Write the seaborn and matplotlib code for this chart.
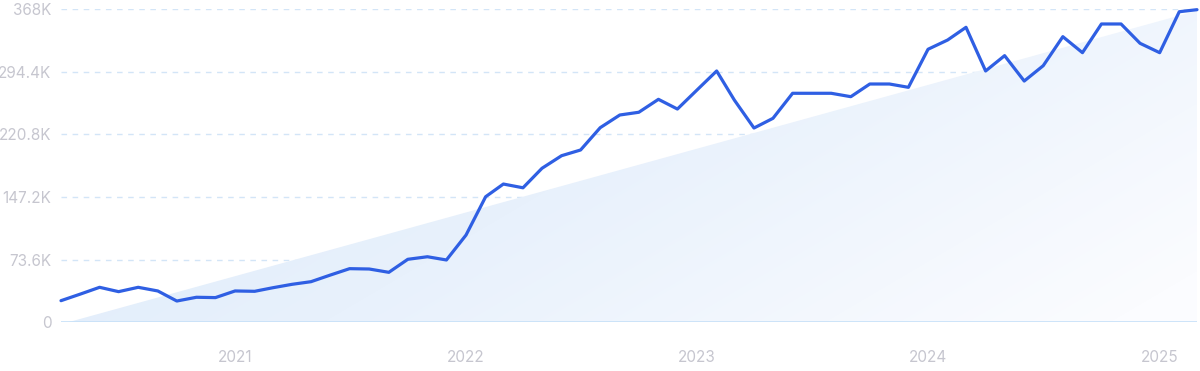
import numpy as np
import pandas as pd
import matplotlib
matplotlib.use("Agg")
import matplotlib.pyplot as plt
import matplotlib.dates as mdates
from matplotlib.patches import Polygon
from matplotlib.colors import LinearSegmentedColormap
import seaborn as sns

# ---- data ----
months = pd.date_range("2020-04-01", "2025-03-01", freq="MS")
values = [
    25400, 33000, 41100, 36000, 41100, 36800, 25000, 29400, 29000,          # 2020-04..2020-12
    36800, 36400, 40500, 44600, 47700, 55600, 63000, 62600, 58700, 74000, 77000, 73200,  # 2021
    102500, 147500, 162400, 158000, 180900, 195700, 202400, 228600, 243500, 246700, 261900, 250500,  # 2022
    272900, 295200, 261000, 228200, 239600, 269000, 269000, 269000, 265000, 279900, 279900, 276000,  # 2023
    320700, 331600, 346500, 295200, 313200, 283400, 301400, 335500, 316700, 350400, 350400, 327700,  # 2024
    316700, 364800, 367200,                                                   # 2025
]
trend_dates = [pd.Timestamp("2020-04-12"), pd.Timestamp("2025-03-01")]
trend_values = [0, 366000]
y_ticks = [0, 73600, 147200, 220800, 294400, 368000]
y_tick_labels = ["0", "73.6K", "147.2K", "220.8K", "294.4K", "368K"]
x_ticks = ["2021", "2022", "2023", "2024", "2025"]

df = pd.DataFrame({"month": months, "value": values})

sns.set_theme(style="white")
plt.rcParams["font.family"] = ["Inter", "DejaVu Sans"]

fig = plt.figure(figsize=(12, 3.71), dpi=100)
ax = fig.add_axes([61 / 1200, 1 - 322.3 / 371, (1197 - 61) / 1200, (322.3 - 9) / 371])

xmin = mdates.date2num(months[0])
xmax = mdates.date2num(months[-1])
ax.set_xlim(xmin, xmax)
ax.set_ylim(0, 368000)

# gradient-filled trend triangle
tx = mdates.date2num(trend_dates)
poly = Polygon([(tx[0], trend_values[0]), (tx[1], trend_values[1]), (tx[1], 0)],
               closed=True, facecolor="none", edgecolor="none", transform=ax.transData)
ax.add_patch(poly)
cmap = LinearSegmentedColormap.from_list("g", ["#dbeafb", "#e8f1fc", "#fbfcff"])
gx, gy = np.meshgrid(np.linspace(0, 1, 300), np.linspace(0, 1, 100))
grad = 0.75 * gx + 0.35 * (1 - gy)
im = ax.imshow(grad, extent=[xmin, xmax, 368000, 0], aspect="auto", cmap=cmap,
               vmin=0, vmax=1.05, zorder=1, interpolation="bilinear")
im.set_clip_path(poly)
ax.set_ylim(0, 368000)

# grid
for yv in y_ticks[1:]:
    ax.axhline(yv, color="#d3e5f7", lw=1, ls=(0, (4, 4)), zorder=0.5)
ax.axhline(0, color="#c6e0f8", lw=1.2, zorder=2)

sns.lineplot(data=df, x=mdates.date2num(df["month"]), y="value", ax=ax,
             color="#2f5fe3", lw=2.3, zorder=3, clip_on=False)

ax.set_yticks(y_ticks)
ax.set_yticklabels(y_tick_labels)
ax.set_xticks([mdates.date2num(pd.Timestamp(f"{y}-01-01")) for y in x_ticks])
ax.set_xticklabels(x_ticks)
ax.tick_params(axis="both", length=0, colors="#c6c6cf", labelsize=11)
ax.tick_params(axis="y", pad=7)
ax.tick_params(axis="x", pad=20)
ax.set_xlabel("")
ax.set_ylabel("")
for s in ax.spines.values():
    s.set_visible(False)

fig.savefig("out.png", dpi=100, facecolor="white")
